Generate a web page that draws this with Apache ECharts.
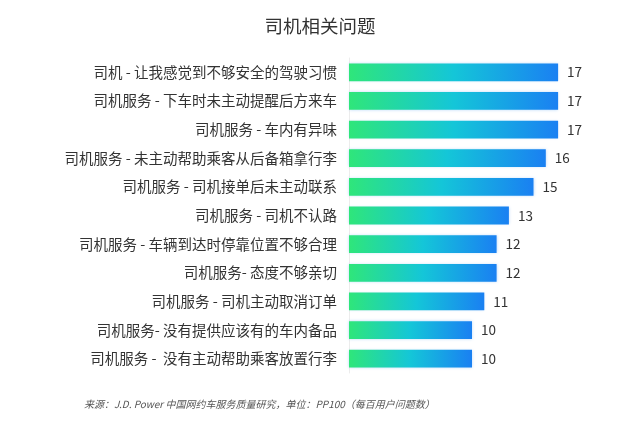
<!DOCTYPE html>
<html>
<head>
<meta charset="utf-8">
<script src="https://cdn.jsdelivr.net/npm/echarts@6/dist/echarts.min.js"></script>
<style>html,body{margin:0;padding:0;background:#fff;}#c{width:640px;height:422px;}</style>
</head>
<body>
<div id="c"></div>
<script>
const title = '司机相关问题';
const categories = [
  '司机 - 让我感觉到不够安全的驾驶习惯',
  '司机服务 - 下车时未主动提醒后方来车',
  '司机服务 - 车内有异味',
  '司机服务 - 未主动帮助乘客从后备箱拿行李',
  '司机服务 - 司机接单后未主动联系',
  '司机服务 - 司机不认路',
  '司机服务 - 车辆到达时停靠位置不够合理',
  '司机服务- 态度不够亲切',
  '司机服务 - 司机主动取消订单',
  '司机服务- 没有提供应该有的车内备品',
  '司机服务 -  没有主动帮助乘客放置行李'
];
const values = [17, 17, 17, 16, 15, 13, 12, 12, 11, 10, 10];
const source = '来源：J.D. Power 中国网约车服务质量研究，单位：PP100（每百用户问题数）';

const chart = echarts.init(document.getElementById('c'), null, {renderer: 'canvas'});
const font = '"Noto Sans CJK SC", "Noto Sans", sans-serif';
chart.setOption({
  backgroundColor: '#fff',
  animation: false,
  textStyle: {fontFamily: font},
  title: [{
    text: title, left: 'center', top: 12,
    textStyle: {fontSize: 18.5, fontWeight: 'normal', color: '#333', fontFamily: font}
  }, {
    text: source, left: 79, top: 394,
    textStyle: {fontSize: 10, fontWeight: 'normal', fontStyle: 'italic', color: '#555', fontFamily: font}
  }],
  grid: {left: 349, top: 58, width: 246, height: 315},
  xAxis: {type: 'value', min: 0, max: 20, show: false},
  yAxis: {
    type: 'category', inverse: true, data: categories,
    axisLine: {show: true, lineStyle: {color: '#ececec'}},
    axisTick: {show: false},
    axisLabel: {fontSize: 14.5, color: '#333', margin: 12, fontFamily: font}
  },
  series: [{
    type: 'bar', data: values, barCategoryGap: '38%',
    itemStyle: {
      color: new echarts.graphic.LinearGradient(0, 0, 1, 0, [
        {offset: 0, color: '#2fe67a'},
        {offset: 0.5, color: '#14c6d8'},
        {offset: 1, color: '#1a80f2'}
      ]),
      shadowBlur: 3, shadowColor: 'rgba(60,150,240,0.35)'
    },
    label: {show: true, position: 'right', distance: 9, fontSize: 13.5, color: '#333', fontFamily: font}
  }]
});
</script>
</body>
</html>
